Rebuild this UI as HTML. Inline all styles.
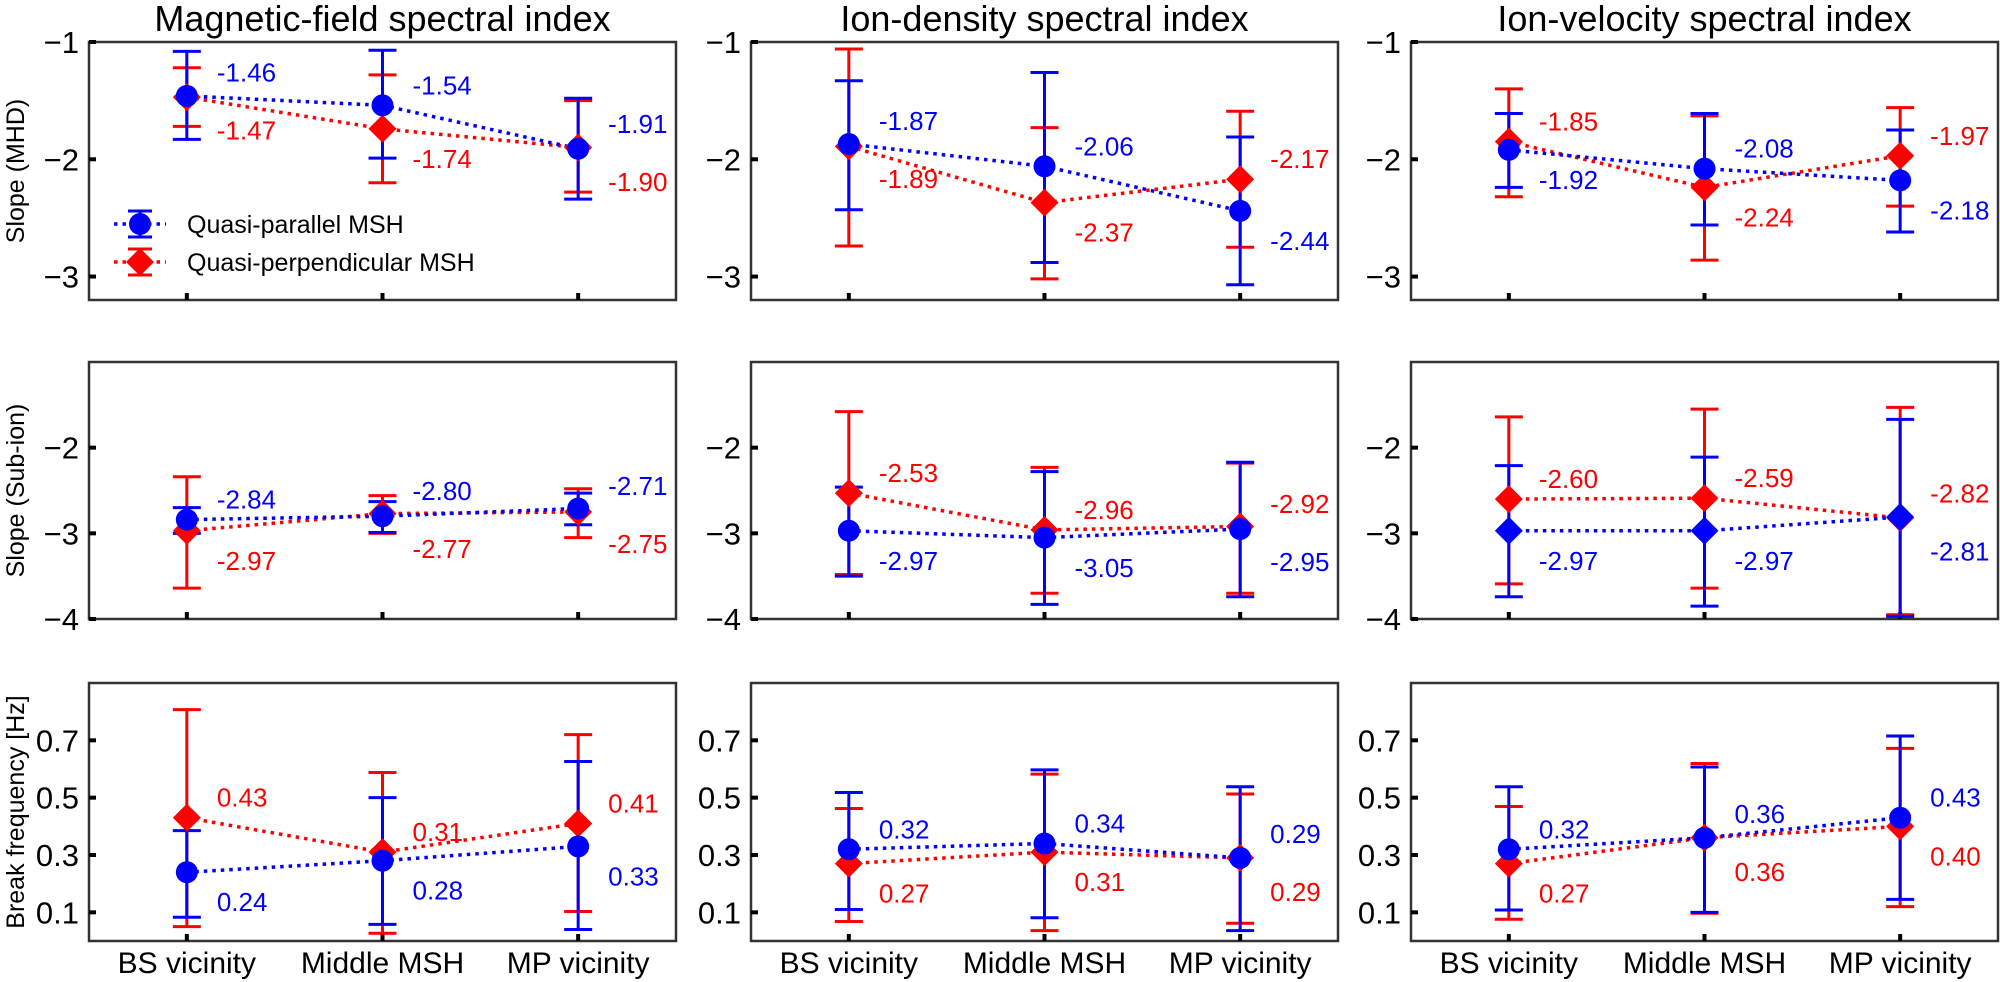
<!DOCTYPE html>
<html><head><meta charset="utf-8">
<style>
html,body{margin:0;padding:0;background:#fff;}
svg{display:block;font-family:"Liberation Sans",Arial,sans-serif;}
</style></head>
<body>
<svg id="fig" width="2000" height="982" viewBox="0 0 2000 982" xmlns="http://www.w3.org/2000/svg"></svg>
<script>
const categories = ['BS vicinity','Middle MSH','MP vicinity'];
const columnTitles = ['Magnetic-field spectral index','Ion-density spectral index','Ion-velocity spectral index'];
const rowTitles = ['Slope (MHD)','Slope (Sub-ion)','Break frequency [Hz]'];
const row1Ticks = [-1,-2,-3];
const row2Ticks = [-2,-3,-4];
const row3Ticks = [0.1,0.3,0.5,0.7];
const row1TickLabels = ['\u22121','\u22122','\u22123'];
const row2TickLabels = ['\u22122','\u22123','\u22124'];
const row3TickLabels = ['0.1','0.3','0.5','0.7'];

// Row 1, MHD slope
const magMhdBlue=[-1.46,-1.54,-1.91], magMhdBlueUp=[-1.08,-1.07,-1.48], magMhdBlueLo=[-1.83,-1.99,-2.34];
const magMhdRed=[-1.47,-1.74,-1.90], magMhdRedUp=[-1.22,-1.28,-1.50], magMhdRedLo=[-1.72,-2.20,-2.28];
const denMhdBlue=[-1.87,-2.06,-2.44], denMhdBlueUp=[-1.33,-1.26,-1.81], denMhdBlueLo=[-2.43,-2.88,-3.07];
const denMhdRed=[-1.89,-2.37,-2.17], denMhdRedUp=[-1.06,-1.73,-1.59], denMhdRedLo=[-2.74,-3.02,-2.75];
const velMhdBlue=[-1.92,-2.08,-2.18], velMhdBlueUp=[-1.61,-1.61,-1.75], velMhdBlueLo=[-2.24,-2.56,-2.62];
const velMhdRed=[-1.85,-2.24,-1.97], velMhdRedUp=[-1.40,-1.63,-1.56], velMhdRedLo=[-2.32,-2.86,-2.40];
// Row 2, sub-ion slope
const magSubBlue=[-2.84,-2.80,-2.71], magSubBlueUp=[-2.70,-2.63,-2.53], magSubBlueLo=[-3.00,-2.99,-2.90];
const magSubRed=[-2.97,-2.77,-2.75], magSubRedUp=[-2.34,-2.56,-2.48], magSubRedLo=[-3.64,-3.00,-3.05];
const denSubBlue=[-2.97,-3.05,-2.95], denSubBlueUp=[-2.46,-2.28,-2.17], denSubBlueLo=[-3.50,-3.83,-3.74];
const denSubRed=[-2.53,-2.96,-2.92], denSubRedUp=[-1.58,-2.23,-2.18], denSubRedLo=[-3.48,-3.70,-3.70];
const velSubBlue=[-2.97,-2.97,-2.81], velSubBlueUp=[-2.21,-2.11,-1.67], velSubBlueLo=[-3.74,-3.85,-3.97];
const velSubRed=[-2.60,-2.59,-2.82], velSubRedUp=[-1.64,-1.55,-1.53], velSubRedLo=[-3.59,-3.64,-3.95];
// Row 3, break frequency
const magBrkBlue=[0.24,0.28,0.33], magBrkBlueUp=[0.385,0.50,0.626], magBrkBlueLo=[0.083,0.058,0.04];
const magBrkRed=[0.43,0.31,0.41], magBrkRedUp=[0.807,0.588,0.72], magBrkRedLo=[0.05,0.027,0.103];
const denBrkBlue=[0.32,0.34,0.29], denBrkBlueUp=[0.518,0.597,0.538], denBrkBlueLo=[0.110,0.081,0.036];
const denBrkRed=[0.27,0.31,0.29], denBrkRedUp=[0.462,0.582,0.513], denBrkRedLo=[0.068,0.036,0.062];
const velBrkBlue=[0.32,0.36,0.43], velBrkBlueUp=[0.538,0.607,0.715], velBrkBlueLo=[0.108,0.10,0.145];
const velBrkRed=[0.27,0.36,0.40], velBrkRedUp=[0.469,0.619,0.672], velBrkRedLo=[0.076,0.097,0.12];

const NS='http://www.w3.org/2000/svg';
const svg=document.getElementById('fig');
function mk(tag,attrs,parent){const e=document.createElementNS(NS,tag);for(const k in attrs)e.setAttribute(k,attrs[k]);(parent||svg).appendChild(e);return e;}

const colLeft=[89,751,1411], colW=587;
const rowTop=[42,362,683], rowBot=[300,619,941];
const rowLim=[[-3.2,-1],[-4,-1],[0,0.9]];
const rowTicks=[row1Ticks,row2Ticks,row3Ticks];
const rowTickLabels=[row1TickLabels,row2TickLabels,row3TickLabels];
const panelSeries=[
 [[magMhdBlue,magMhdBlueUp,magMhdBlueLo,magMhdRed,magMhdRedUp,magMhdRedLo],[denMhdBlue,denMhdBlueUp,denMhdBlueLo,denMhdRed,denMhdRedUp,denMhdRedLo],[velMhdBlue,velMhdBlueUp,velMhdBlueLo,velMhdRed,velMhdRedUp,velMhdRedLo]],
 [[magSubBlue,magSubBlueUp,magSubBlueLo,magSubRed,magSubRedUp,magSubRedLo],[denSubBlue,denSubBlueUp,denSubBlueLo,denSubRed,denSubRedUp,denSubRedLo],[velSubBlue,velSubBlueUp,velSubBlueLo,velSubRed,velSubRedUp,velSubRedLo]],
 [[magBrkBlue,magBrkBlueUp,magBrkBlueLo,magBrkRed,magBrkRedUp,magBrkRedLo],[denBrkBlue,denBrkBlueUp,denBrkBlueLo,denBrkRed,denBrkRedUp,denBrkRedLo],[velBrkBlue,velBrkBlueUp,velBrkBlueLo,velBrkRed,velBrkRedUp,velBrkRedLo]]
];
const BLUE='#0000ff', RED='#ff0000';

function drawMarker(g,x,y,color,shape){
  let m;
  if(shape==='circle'){m=mk('circle',{cx:x,cy:y,r:11,fill:color},g);}
  else{const d=14;m=mk('polygon',{points:`${x},${y-d} ${x+d},${y} ${x},${y+d} ${x-d},${y}`,fill:color},g);}
  return m;
}

for(let c=0;c<3;c++){
  const t=mk('text',{x:colLeft[c]+colW/2,y:31,'text-anchor':'middle','font-size':36,fill:'#000'});
  t.textContent=columnTitles[c];
  
  
}
for(let r=0;r<3;r++){
  const cy=(rowTop[r]+rowBot[r])/2;
  const t=mk('text',{x:0,y:0,transform:`translate(24,${cy}) rotate(-90)`,'text-anchor':'middle','font-size':25,fill:'#000'});
  t.textContent=rowTitles[r];
  
  
}

for(let r=0;r<3;r++){
  for(let c=0;c<3;c++){
    const L=colLeft[c],T=rowTop[r],B=rowBot[r];
    const [ymin,ymax]=rowLim[r];
    const yS=v=>B-(v-ymin)/(ymax-ymin)*(B-T);
    const xS=i=>L+(i+1-0.5)/3*colW;
    const g=mk('g',{});
    
    
    const frame=mk('rect',{x:L,y:T,width:colW,height:B-T,fill:'none',stroke:'#333',"stroke-width":2.5},g);
    
    
    rowTicks[r].forEach((v,k)=>{
      const y=yS(v);
      mk('line',{x1:L,x2:L+7,y1:y,y2:y,stroke:'#000','stroke-width':4},g);
      const t=mk('text',{x:L-10,y:y+11,'text-anchor':'end','font-size':31,fill:'#000'},g);
      t.textContent=rowTickLabels[r][k];
      
      
    });
    categories.forEach((cat,i)=>{
      const x=xS(i);
      mk('line',{x1:x,x2:x,y1:B,y2:B-7,stroke:'#000','stroke-width':4},g);
      if(r===2){
        const t=mk('text',{x:x,y:973,'text-anchor':'middle','font-size':30,fill:'#000'},g);
        t.textContent=cat;
        
        
      }
    });
    const [bV,bU,bL,rV,rU,rL]=panelSeries[r][c];
    const series=[{v:rV,u:rU,l:rL,color:RED,shape:'diamond',name:'red'},{v:bV,u:bU,l:bL,color:BLUE,shape:(r===1&&c===2)?'diamond':'circle',name:'blue'}];
    series.forEach(s=>{
      const pts=s.v.map((v,i)=>`${xS(i)},${yS(v)}`).join(' ');
      const pl=mk('polyline',{points:pts,fill:'none',stroke:s.color,'stroke-width':3.5,'stroke-dasharray':'3.5 5'},g);
      
      
    });
    series.forEach(s=>{
      s.v.forEach((v,i)=>{
        const x=xS(i),yu=yS(s.u[i]),yl=yS(s.l[i]);
        const eb=mk('path',{d:`M${x},${yu}V${yl}M${x-14},${yu}H${x+14}M${x-14},${yl}H${x+14}`,stroke:s.color,'stroke-width':3,fill:'none'},g);
        
        
      });
    });
    series.forEach(s=>{
      s.v.forEach((v,i)=>{
        const m=drawMarker(g,xS(i),yS(v),s.color,s.shape);
        
        
      });
    });
    categories.forEach((cat,i)=>{
      const yb=yS(bV[i]), yr=yS(rV[i]);
      let blueAbove = (rV[i]-bV[i]) <= 0.015;
      if(r===1&&c===0&&i===1) blueAbove=true;
      if(r===1&&c===2&&i===2) blueAbove=false;
      const yHi=Math.min(yb,yr), yLo=Math.max(yb,yr);
      let up=yHi-20, dn=yLo+30;
      if(dn-up<58){const m=(up+dn)/2;up=m-29;dn=m+29;}
      const lb=blueAbove?up:dn, lr=blueAbove?dn:up;
      const x=xS(i)+30;
      [[bV[i],lb,BLUE,'blue'],[rV[i],lr,RED,'red']].forEach(([v,y,col,nm])=>{
        const t=mk('text',{x:x,y:y+9,'font-size':26,fill:col},g);
        t.textContent=v.toFixed(2);
        
        
      });
    });
  }
}

const lg=mk('g',{});


[[224,BLUE,'circle','Quasi-parallel MSH'],[262,RED,'diamond','Quasi-perpendicular MSH']].forEach(([y,col,shape,label])=>{
  const e=mk('g',{},lg);
  
  
  mk('line',{x1:114,x2:166,y1:y,y2:y,stroke:col,'stroke-width':3.5,'stroke-dasharray':'3.5 5'},e);
  mk('path',{d:`M140,${y-13}V${y+13}M128,${y-13}H152M128,${y+13}H152`,stroke:col,'stroke-width':3,fill:'none'},e);
  drawMarker(e,140,y,col,shape);
  const t=mk('text',{x:187,y:y+9,'font-size':25,fill:'#000'},e);
  t.textContent=label;
});
</script>
</body></html>
